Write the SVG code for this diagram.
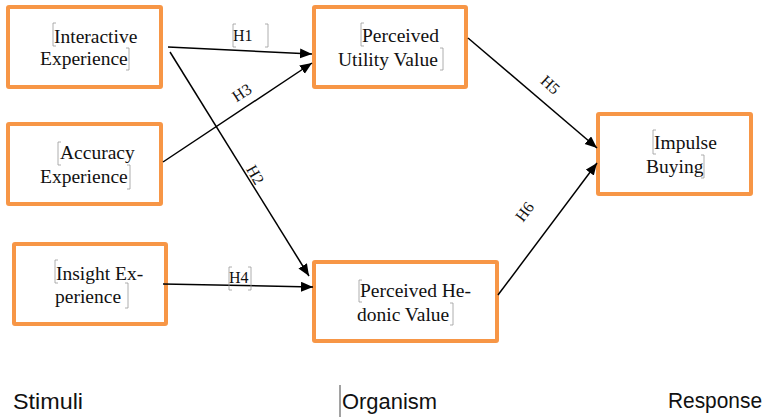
<svg xmlns="http://www.w3.org/2000/svg" width="768" height="419" viewBox="0 0 768 419">
<defs>
<style>
.box{fill:#fff;stroke:#F79646;stroke-width:4}
.t{font-family:"Liberation Serif","Times New Roman",serif;font-size:19.5px;fill:#111}
.h{font-family:"Liberation Serif","Times New Roman",serif;font-size:16px;fill:#111}
.s{font-family:"Liberation Sans",Arial,sans-serif;font-size:22px;fill:#111}
.c{stroke:#000;stroke-width:1.5;fill:none;marker-end:url(#ah)}
.br{stroke:#9a9a9a;stroke-width:0.8;fill:none}
</style>
<marker id="ah" markerUnits="userSpaceOnUse" markerWidth="13" markerHeight="11" refX="12" refY="5" orient="auto">
<path d="M0,0 L12,5 L0,10 z" fill="#000"/>
</marker>
</defs>
<rect width="768" height="419" fill="#fff"/>

<g id="interactive">
<rect class="box" x="8" y="7" width="153" height="80" rx="1"/>
<text class="t" x="54" y="43">Interactive</text>
<text class="t" x="40" y="65">Experience</text>
<path class="br" d="M56,23 H53 V46 H56 M126,48 H129 V70 H126"/>
</g>

<g id="accuracy">
<rect class="box" x="8" y="124" width="153" height="80" rx="1"/>
<text class="t" x="60" y="159">Accuracy</text>
<text class="t" x="40" y="183">Experience</text>
<path class="br" d="M61,142 H58 V165 H61 M127,165 H130 V189 H127"/>
</g>

<g id="insight">
<rect class="box" x="14" y="244" width="152" height="80" rx="1"/>
<text class="t" x="56" y="280">Insight Ex-</text>
<text class="t" x="55" y="303">perience</text>
<path class="br" d="M58,260 H55 V283 H58 M125,283 H128 V308 H125"/>
</g>

<g id="utility">
<rect class="box" x="314" y="7" width="152" height="80" rx="1"/>
<text class="t" x="362" y="42">Perceived</text>
<text class="t" x="338" y="66">Utility Value</text>
<path class="br" d="M364,23 H361 V46 H364 M440,48 H443 V70 H440"/>
</g>

<g id="impulse">
<rect class="box" x="598" y="114" width="153" height="80" rx="1"/>
<text class="t" x="654" y="149">Impulse</text>
<text class="t" x="646" y="173">Buying</text>
<path class="br" d="M656,130 H653 V154 H656 M701,155 H704 V178 H701"/>
</g>

<g id="hedonic">
<rect class="box" x="314" y="262" width="183" height="79" rx="1"/>
<text class="t" x="360" y="297">Perceived He-</text>
<text class="t" x="357" y="321">donic Value</text>
<path class="br" d="M362,280 H359 V302 H362 M450,303 H453 V325 H450"/>
</g>

<g id="connectors">
<line class="c" x1="168" y1="47" x2="312" y2="54"/>
<line class="c" x1="163" y1="162" x2="312" y2="63"/>
<line class="c" x1="170" y1="52" x2="309" y2="276"/>
<line class="c" x1="163" y1="284" x2="313" y2="287"/>
<line class="c" x1="468" y1="38" x2="597" y2="148"/>
<line class="c" x1="498" y1="295" x2="597" y2="163"/>
<g id="labels">
<text class="h" x="233" y="41">H1</text>
<path class="br" d="M236,24 H233 V47 H236 M265,24 H268 V47 H265"/>
<text class="h" transform="translate(242,93) rotate(-33)" text-anchor="middle" y="5">H3</text>
<text class="h" transform="translate(255,175) rotate(60)" text-anchor="middle" y="5">H2</text>
<text class="h" x="229" y="283">H4</text>
<path class="br" d="M232,267 H229 V290 H232 M248,267 H251 V290 H248"/>
<text class="h" transform="translate(550,85) rotate(42)" text-anchor="middle" y="5">H5</text>
<text class="h" transform="translate(525,212) rotate(-53)" text-anchor="middle" y="5">H6</text>
</g>
</g>

<g id="stages">
<text class="s" x="13" y="409" textLength="70" lengthAdjust="spacingAndGlyphs">Stimuli</text>
<text class="s" x="342" y="409" textLength="95" lengthAdjust="spacingAndGlyphs">Organism</text>
<text class="s" x="668" y="408" textLength="94" lengthAdjust="spacingAndGlyphs">Response</text>
<line x1="340" y1="385" x2="340" y2="417" stroke="#444" stroke-width="1"/>
</g>
</svg>
